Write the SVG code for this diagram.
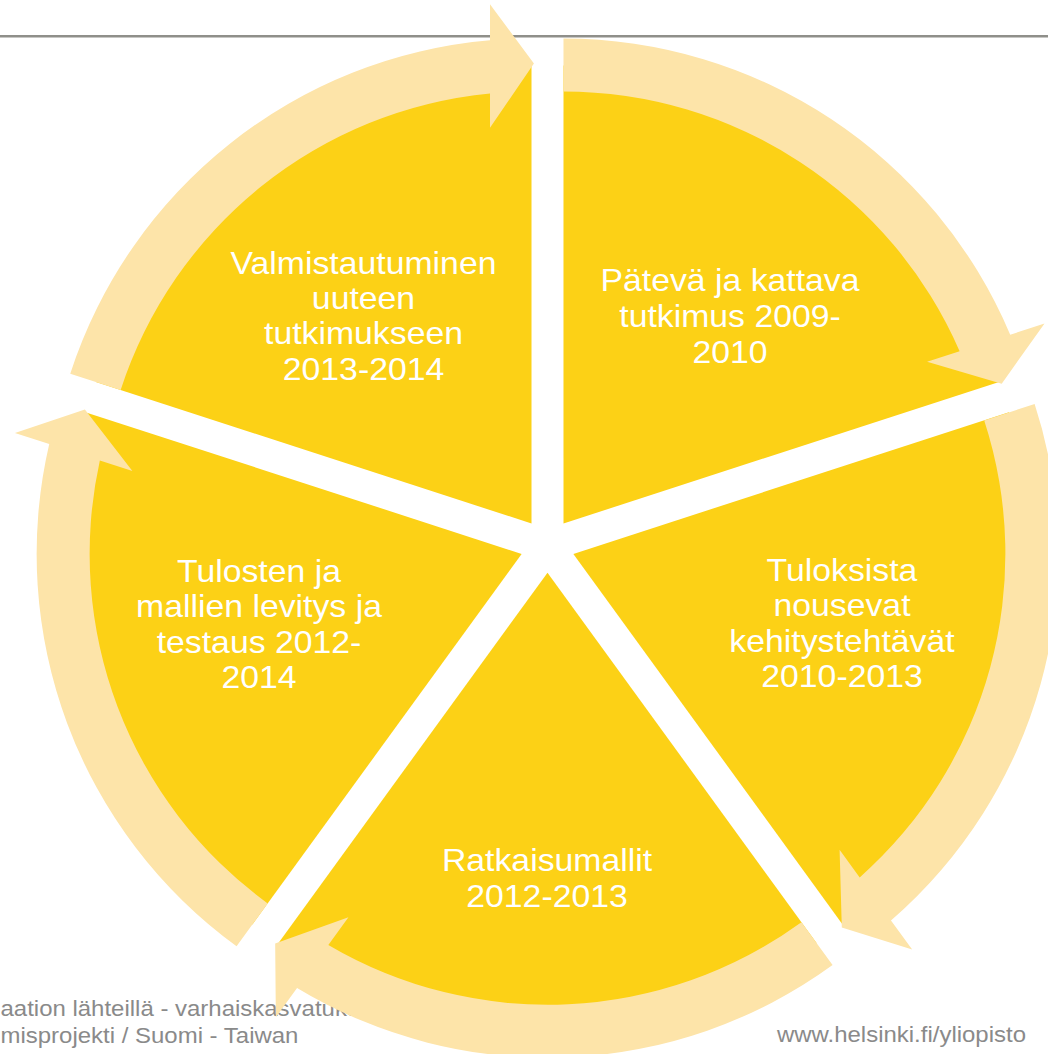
<svg xmlns="http://www.w3.org/2000/svg" width="1048" height="1054" viewBox="0 0 1048 1054">
<defs>
<style>
.sector{fill:#FCD116;stroke:none}
.arrow{fill:#FDE4A9;stroke:none}
.lbl{font-family:"Liberation Sans",Arial,sans-serif;font-size:31px;fill:#FFFFFF;text-anchor:middle}
.foot{font-family:"Liberation Sans",Arial,sans-serif;font-size:22px;fill:#8A8A8A}
</style>
<path id="sec" d="M 531.51 523.5 L 95.93 381.97 A 458 458 0 0 1 531.51 65.5 Z"/>
<path id="arr" d="M 70.25 373.63 A 485 485 0 0 1 490 40.28 L 490 4.2 L 533.92 63.5 L 490 127.7 L 490 93.5 A 432 432 0 0 0 120.65 390 Z"/>
</defs>
<rect width="1048" height="1054" fill="#FFFFFF"/>
<line x1="0" y1="36.2" x2="1048" y2="36.2" stroke="#8F8F8A" stroke-width="2.4"/>

<g id="node-valmistautuminen">
<use href="#sec" class="sector"/>
<text class="lbl" transform="matrix(1.09 0 0 1 363.5 0)"><tspan x="0" y="274.5">Valmistautuminen</tspan><tspan x="0" y="309.5">uuteen</tspan><tspan x="0" y="344.5">tutkimukseen</tspan><tspan x="0" y="380">2013-2014</tspan></text>
</g>
<g id="node-pateva">
<use href="#sec" class="sector" transform="rotate(72 547.5 545.5)"/>
<text class="lbl" transform="matrix(1.09 0 0 1 730 0)"><tspan x="0" y="291.5">Pätevä ja kattava</tspan><tspan x="0" y="327.5">tutkimus 2009-</tspan><tspan x="0" y="363.5">2010</tspan></text>
</g>
<g id="node-tuloksista">
<use href="#sec" class="sector" transform="rotate(144 547.5 545.5)"/>
<text class="lbl" transform="matrix(1.09 0 0 1 842 0)"><tspan x="0" y="581">Tuloksista</tspan><tspan x="0" y="616.5">nousevat</tspan><tspan x="0" y="652">kehitystehtävät</tspan><tspan x="0" y="687.5">2010-2013</tspan></text>
</g>
<g id="node-ratkaisumallit">
<use href="#sec" class="sector" transform="rotate(216 547.5 545.5)"/>
<text class="lbl" transform="matrix(1.09 0 0 1 547 0)"><tspan x="0" y="871.5">Ratkaisumallit</tspan><tspan x="0" y="907">2012-2013</tspan></text>
</g>
<g id="node-tulosten">
<use href="#sec" class="sector" transform="rotate(288 547.5 545.5)"/>
<text class="lbl" transform="matrix(1.09 0 0 1 259 0)"><tspan x="0" y="582">Tulosten ja</tspan><tspan x="0" y="617.5">mallien levitys ja</tspan><tspan x="0" y="653">testaus 2012-</tspan><tspan x="0" y="688.5">2014</tspan></text>
</g>

<g id="footer">
<text class="foot" transform="matrix(1.09 0 0 1 0.5 0)"><tspan x="0" y="1016">aation lähteillä - varhaiskasvatuksen</tspan><tspan x="0" y="1043">misprojekti / Suomi - Taiwan</tspan></text>
<text class="foot" transform="matrix(1.09 0 0 1 1026 0)" text-anchor="end" x="0" y="1042.5">www.helsinki.fi/yliopisto</text>
</g>

<g id="connectors">
<use href="#arr" class="arrow"/>
<use href="#arr" class="arrow" transform="rotate(72 547.5 545.5)"/>
<use href="#arr" class="arrow" transform="rotate(144 547.5 545.5)"/>
<use href="#arr" class="arrow" transform="rotate(216 547.5 545.5)"/>
<use href="#arr" class="arrow" transform="rotate(288 547.5 545.5)"/>
</g>
</svg>
